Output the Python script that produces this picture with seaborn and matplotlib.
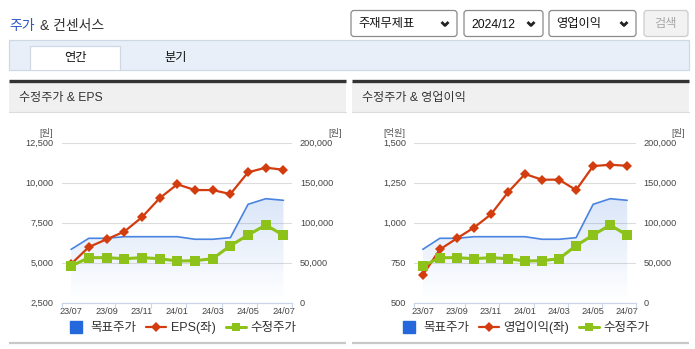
import numpy as np
import pandas as pd
import matplotlib
matplotlib.use("Agg")
import matplotlib.pyplot as plt
import seaborn as sns
from matplotlib.patches import Rectangle, FancyBboxPatch
from matplotlib.lines import Line2D

# ---------------- data ----------------
months = ["23/07", "23/08", "23/09", "23/10", "23/11", "23/12", "24/01",
          "24/02", "24/03", "24/04", "24/05", "24/06", "24/07"]
eps = [4920, 5980, 6460, 6940, 7840, 9030, 9900, 9540, 9540, 9290, 10650, 10940, 10810]
op_profit = [673, 833, 902, 969, 1052, 1190, 1304, 1269, 1269, 1204, 1354, 1362, 1356]
target_price = [66700, 80500, 80500, 82500, 82500, 82500, 82500, 79300, 79300, 81300,
                123000, 130000, 128000]
adj_price = [45900, 56300, 56300, 55000, 56300, 55000, 52100, 52500, 55000, 71300,
             84600, 97100, 84300]
right_ticks = [0, 50000, 100000, 150000, 200000]
eps_ticks = [2500, 5000, 7500, 10000, 12500]
op_ticks = [500, 750, 1000, 1250, 1500]

df = pd.DataFrame({"month": months, "i": np.arange(len(months)), "eps": eps,
                   "op": op_profit, "target": target_price, "adj": adj_price})

# ---------------- style ----------------
sns.set_theme(style="white")
plt.rcParams["font.family"] = ["Liberation Sans", "Noto Sans CJK KR", "DejaVu Sans"]
plt.rcParams["axes.unicode_minus"] = False

RED = "#d23c0e"
GREEN = "#8cc21a"
BLUE = "#4a84e0"
BLUE_SQ = "#2468dc"
TXT = "#333333"

W, H = 695, 349
fig = plt.figure(figsize=(W / 100, H / 100), dpi=100)
fig.patch.set_facecolor("white")
bg = fig.add_axes([0, 0, 1, 1])
bg.set_xlim(0, W)
bg.set_ylim(H, 0)
bg.axis("off")

# ---------------- page header ----------------
bg.text(9.5, 26, "주가", fontsize=10, color="#2c55c8", ha="left", va="center")
bg.text(40.5, 26, "& 컨센서스", fontsize=10, color=TXT, ha="left", va="center")

def dropdown(x0, x1, label, chev=True, txtcolor="#111", face="white", edge="#8a8a8a"):
    bg.add_patch(FancyBboxPatch((x0, 10.5), x1 - x0, 26, boxstyle="round,pad=0,rounding_size=3",
                                facecolor=face, edgecolor=edge, linewidth=0.9))
    if chev:
        bg.text(x0 + 7, 24.5, label, fontsize=8.8, color=txtcolor, ha="left", va="center")
        cx = x1 - 12
        bg.add_line(Line2D([cx - 3.5, cx, cx + 3.5], [22, 25.5, 22], color="#222", lw=2.0,
                           solid_capstyle="butt"))
    else:
        bg.text((x0 + x1) / 2, 24.5, label, fontsize=8.8, color=txtcolor, ha="center", va="center")

dropdown(351, 457, "주재무제표")
dropdown(464, 543, "2024/12")
dropdown(549, 636, "영업이익")
dropdown(644, 688, "검색", chev=False, txtcolor="#a8a8a8", face="#f2f2f2", edge="#cccccc")

# tab band
bg.add_patch(Rectangle((9, 40), 680, 29.5, facecolor="#e8eff9", edgecolor="#cfd9e6", lw=0.9))
bg.add_patch(Rectangle((29.5, 45.5), 90.5, 24.5, facecolor="white", edgecolor="none"))
bg.add_line(Line2D([29.5, 29.5, 120, 120], [70, 45.5, 45.5, 70], color="#cfd9e6", lw=0.9))
bg.text(75, 57.5, "연간", fontsize=8.8, color="#111", ha="center", va="center")
bg.text(175.5, 57.5, "분기", fontsize=8.8, color="#111", ha="center", va="center")

# panels
for (x0, x1, title) in [(9, 346, "수정주가 & EPS"), (352, 689, "수정주가 & 영업이익")]:
    bg.add_patch(Rectangle((x0, 82), x1 - x0, 30, facecolor="#f0f0f0", edgecolor="none"))
    bg.add_line(Line2D([x0, x1], [81, 81], color="#333333", lw=2.4, solid_capstyle="butt"))
    bg.add_line(Line2D([x0, x1], [112, 112], color="#dcdcdc", lw=0.8))
    bg.add_line(Line2D([x0, x1], [343.3, 343.3], color="#c8c8c8", lw=1.6, solid_capstyle="butt"))
    bg.text(x0 + 10, 97.5, title, fontsize=8.7, color=TXT, ha="left", va="center")


def chart(px0, px1, ycol, lticks, left_unit, lu_x, ru_x, name, leg_cx):
    py0, py1 = 142.7, 302.7
    rect = [px0 / W, 1 - py1 / H, (px1 - px0) / W, (py1 - py0) / H]
    ax = fig.add_axes(rect)
    axr = ax.twinx()
    axg = ax.twinx()
    axr.set_zorder(1)
    ax.set_zorder(2)
    axg.set_zorder(3)
    for a in (ax, axr, axg):
        a.patch.set_visible(False)
        for s in a.spines.values():
            s.set_visible(False)

    # price axis (right) with grid and blue area
    axr.set_ylim(right_ticks[0], right_ticks[-1])
    axr.set_yticks(right_ticks)
    axr.set_yticklabels([f"{v:,}" for v in right_ticks])
    axr.tick_params(axis="y", length=0, pad=5.5, labelsize=6.6, colors="#444444")
    axr.yaxis.grid(True, color="#dcdcdc", lw=0.8)
    axr.set_axisbelow(True)

    poly = axr.fill_between(df["i"], df["target"], 0, facecolor="none", edgecolor="none")
    grad = np.zeros((100, 1, 4))
    grad[:, 0, 0:3] = matplotlib.colors.to_rgb("#4a84e0")
    grad[:, 0, 3] = np.linspace(0.0, 0.2, 100)
    top = max(target_price)
    im = axr.imshow(grad, extent=[df["i"].min(), df["i"].max(), 0, top], origin="lower",
                    aspect="auto", zorder=1.5, interpolation="bilinear")
    im.set_clip_path(poly.get_paths()[0], transform=axr.transData)
    sns.lineplot(data=df, x="i", y="target", ax=axr, color=BLUE, linewidth=1.2, legend=False)

    # left axis series
    sns.lineplot(data=df, x="i", y=ycol, ax=ax, color=RED, linewidth=1.6, marker="D",
                 markersize=5.5, markeredgewidth=0, legend=False)
    ax.set_ylim(lticks[0], lticks[-1])
    ax.set_yticks(lticks)
    ax.set_yticklabels([f"{v:,}" for v in lticks])
    ax.tick_params(axis="y", length=0, pad=6, labelsize=6.6, colors="#444444")

    # adjusted price on its own overlay (same scale as right axis)
    sns.lineplot(data=df, x="i", y="adj", ax=axg, color=GREEN, linewidth=2.2, marker="s",
                 markersize=6.5, markeredgewidth=0, legend=False)
    axg.set_ylim(right_ticks[0], right_ticks[-1])
    axg.set_yticks([])

    # x axis
    ax.set_xlim(-0.5, len(months) - 0.5)
    ax.set_xticks(df["i"][::2])
    ax.set_xticklabels(df["month"][::2])
    ax.set_xticks([-0.5, 2.5, 4.5, 6.5, 8.5, 10.5, 12.5], minor=True)
    ax.tick_params(axis="x", which="major", length=0, pad=3, labelsize=6.6, colors="#444444")
    ax.tick_params(axis="x", which="minor", length=3.5, width=0.8, color="#ccd6eb", direction="out",
                   bottom=True)
    ax.spines["bottom"].set_visible(True)
    ax.spines["bottom"].set_color("#ccd6eb")
    ax.spines["bottom"].set_linewidth(0.9)
    for a in (ax, axr, axg):
        a.set_xlabel("")
        a.set_ylabel("")

    bg.text(lu_x, 133.3, left_unit, fontsize=6.6, color="#555555", ha="center", va="center")
    bg.text(ru_x, 133.3, "[원]", fontsize=6.6, color="#555555", ha="center", va="center")

    handles = [Line2D([], [], marker="s", ls="none", color=BLUE_SQ, markersize=8),
               Line2D([], [], color=RED, marker="D", markersize=5, lw=1.6, markeredgewidth=0),
               Line2D([], [], color=GREEN, marker="s", markersize=6, lw=2.2, markeredgewidth=0)]
    fig.legend(handles, ["목표주가", name, "수정주가"], loc="center",
               bbox_to_anchor=(leg_cx / W, 1 - 328 / H), ncol=3, frameon=False, fontsize=9,
               handlelength=1.6, handletextpad=0.35, columnspacing=0.8, labelcolor=TXT,
               borderpad=0, borderaxespad=0)


chart(62.3, 292.3, "eps", eps_ticks, "[원]", 46.5, 335, "EPS(좌)", 181)
chart(414.3, 635.7, "op", op_ticks, "[억원]", 394, 678, "영업이익(좌)", 524)

fig.savefig("out.png", dpi=100, facecolor="white")
